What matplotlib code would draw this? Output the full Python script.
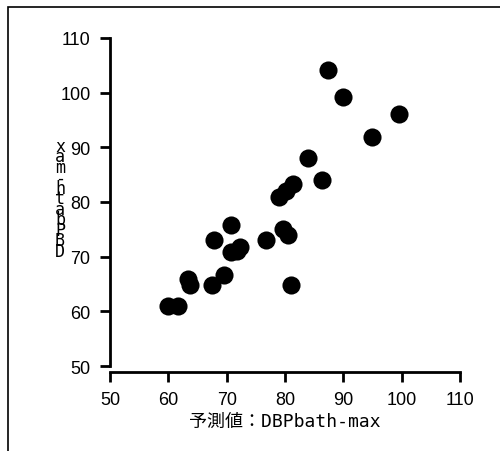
import matplotlib.pyplot as plt
from matplotlib.patches import Rectangle

plt.rcParams['font.family'] = ['Liberation Sans', 'Noto Sans CJK JP']

# 予測値 (x) と 実測値 (y)
pred = [87.4, 90.0, 99.6, 95.0, 84.0, 86.4, 79.0, 80.2, 81.4, 70.8, 67.9, 76.7,
        79.6, 80.6, 70.7, 72.3, 71.8, 69.5, 67.5, 81.0, 63.3, 63.7, 60.0, 61.6]
meas = [104.1, 99.1, 96.0, 91.9, 88.0, 84.1, 80.9, 82.0, 83.2, 75.8, 73.1, 73.1,
        75.1, 74.0, 70.8, 71.7, 71.0, 66.7, 64.8, 64.9, 65.9, 64.8, 60.9, 60.9]

ticks = [50, 60, 70, 80, 90, 100, 110]
xlabel = '予測値：DBPbath-max'
ylabel = 'DBPbath-max'

fig = plt.figure(figsize=(5, 4.52), dpi=100)
ax = fig.add_axes([0.22, 0.188, 0.70, 0.726])

ax.scatter(pred, meas, s=170, marker='o', color='black', linewidths=0)

ax.set_xlim(50, 110)
ax.set_ylim(50, 110)
ax.set_xticks(ticks)
ax.set_yticks(ticks)
for s in ['top', 'right']:
    ax.spines[s].set_visible(False)
for s in ['left', 'bottom']:
    ax.spines[s].set_linewidth(2)
ax.spines['bottom'].set_position(('outward', 4))
ax.tick_params(length=7, width=2, labelsize=13, pad=7)

ax.set_xlabel(xlabel, fontsize=13, family=['DejaVu Sans Mono', 'Noto Sans CJK JP'],
              labelpad=3)

# 縦に積んだ y ラベル (下から上へ、文字が重なる)
y0 = 1 - 252 / 452
step = 10.5 / 452
for i, c in enumerate(ylabel):
    fig.text(60 / 500, y0 + i * step, c, fontsize=12,
             family='DejaVu Sans Mono', ha='center', va='center')

# 外枠
fig.patches.append(Rectangle((8 / 500, -0.1), 1.2, 1 - 8 / 452 + 0.1,
                             transform=fig.transFigure, fill=False,
                             edgecolor='black', linewidth=1.2))

fig.savefig('out.png', dpi=100)
